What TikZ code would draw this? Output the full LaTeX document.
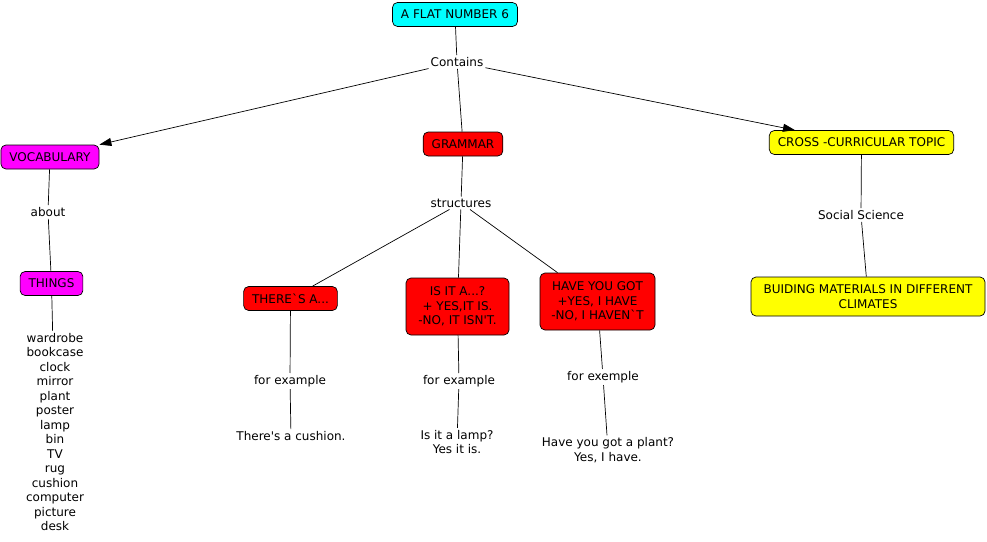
\documentclass[tikz,border=0pt]{standalone}
\usepackage{fontspec}
\setmainfont{DejaVu Sans}
\usetikzlibrary{arrows.meta}
\definecolor{cmapcyan}{RGB}{0,255,255}
\definecolor{cmapmagenta}{RGB}{255,0,255}
\definecolor{cmapred}{RGB}{255,0,0}
\definecolor{cmapyellow}{RGB}{255,255,0}

\begin{document}
\begin{tikzpicture}[x=1pt,y=-1pt,
	concept/.style={draw=black,line width=0.7pt,rounded corners=5pt,inner xsep=8.5pt,inner ysep=3pt,minimum height=24pt,align=center,font=\fontsize{12}{14.5}\selectfont},
	phrase/.style={inner sep=2pt,align=center,font=\fontsize{12}{14.5}\selectfont},
	link/.style={line width=0.7pt},
	linkarrow/.style={line width=0.7pt,-{Triangle[length=12pt,width=8pt]}}]
	\useasboundingbox (0,0) rectangle (987,541);
	\node[concept,fill=cmapcyan] (root) at (455,14.5) {A FLAT NUMBER 6};
	\node[phrase] (contains) at (457,62) {Contains};
	\node[concept,fill=cmapmagenta] (vocab) at (50,157) {VOCABULARY};
	\node[concept,fill=cmapred] (grammar) at (463,144) {GRAMMAR};
	\node[concept,fill=cmapyellow] (cross) at (861.5,142.5) {CROSS -CURRICULAR TOPIC};
	\coordinate (crosstop) at ([xshift=26pt]cross.north west);
	\draw[link] (root) -- (contains);
	\draw[linkarrow] (contains) -- (vocab.north east);
	\draw[link] (contains) -- (grammar);
	\draw[linkarrow] (contains) -- (crosstop);
	\node[phrase] (about) at (48,212) {about};
	\node[concept,fill=cmapmagenta] (things) at (51.5,283.5) {THINGS};
	\node[phrase] (words) at (55,432) {wardrobe\\bookcase\\clock\\mirror\\plant\\poster\\lamp\\bin\\TV\\rug\\cushion\\computer\\picture\\desk};
	\draw[link] (vocab) -- (about);
	\draw[link] (about) -- (things);
	\draw[link] (things) -- (words);
	\node[phrase] (structures) at (461,203) {structures};
	\node[concept,fill=cmapred] (there) at (290.5,298.5) {THERE\textasciigrave S A...};
	\node[concept,fill=cmapred,minimum width=103pt,minimum height=57pt] (isit) at (457.5,306.5) {IS IT A...?\\+ YES,IT IS.\\-NO, IT ISN\textquotesingle T.};
	\node[concept,fill=cmapred,minimum width=115pt,minimum height=57pt] (have) at (597.5,301.5) {HAVE YOU GOT\\+YES, I HAVE\\-NO, I HAVEN\textasciigrave T};
	\draw[link] (grammar) -- (structures);
	\draw[link] (structures) -- (there);
	\draw[link] (structures) -- (isit);
	\draw[link] (structures) -- (have);
	\node[phrase] (exthere) at (290,381) {for example};
	\node[phrase] (cushion) at (291,436) {There\textquotesingle s a cushion.};
	\node[phrase] (exisit) at (459,381) {for example};
	\node[phrase] (lamp) at (457,442) {Is it a lamp?\\Yes it is.};
	\node[phrase] (exhave) at (603,377) {for exemple};
	\node[phrase] (plant) at (608,450) {Have you got a plant?\\Yes, I have.};
	\draw[link] (there) -- (exthere);
	\draw[link] (exthere) -- (cushion);
	\draw[link] (isit) -- (exisit);
	\draw[link] (exisit) -- (lamp);
	\draw[link] (have) -- (exhave);
	\draw[link] (exhave) -- (plant);
	\node[phrase] (social) at (861,215) {Social Science};
	\node[concept,fill=cmapyellow,minimum width=234pt,minimum height=39pt] (materials) at (868,296.5) {BUIDING MATERIALS IN DIFFERENT\\CLIMATES};
	\draw[link] (cross) -- (social);
	\draw[link] (social) -- (materials);
\end{tikzpicture}
\end{document}
